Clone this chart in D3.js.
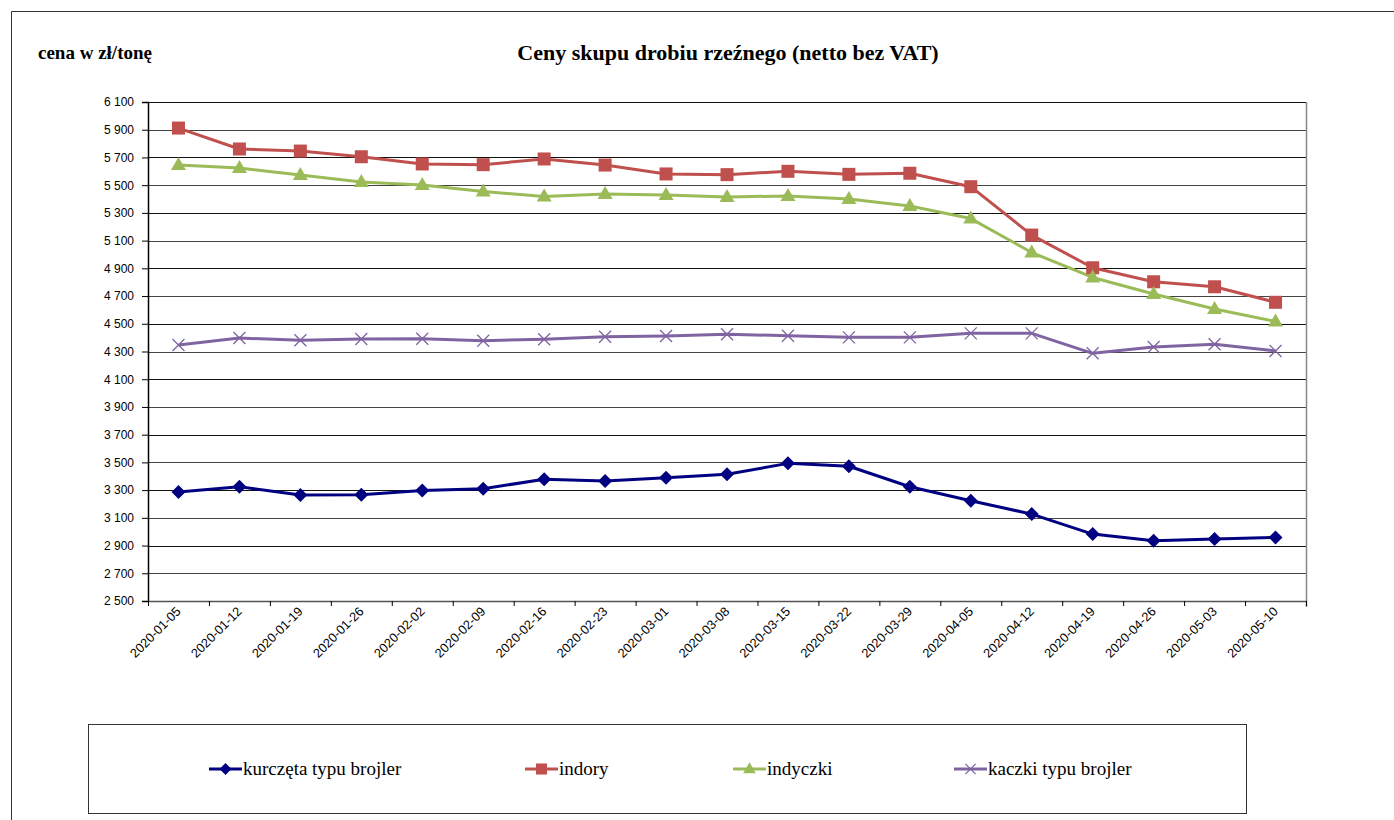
<!DOCTYPE html>
<html><head><meta charset="utf-8">
<script src="https://cdn.jsdelivr.net/npm/d3@7"></script>
<style>body{margin:0;background:#fff}svg{display:block}
.serif{font-family:"Liberation Serif","Times New Roman",serif}
.sans{font-family:"Liberation Sans",Arial,sans-serif}
</style>
</head><body>
<svg id="c" width="1394" height="820"></svg>
<script>
const dates = ["2020-01-05","2020-01-12","2020-01-19","2020-01-26","2020-02-02","2020-02-09","2020-02-16","2020-02-23","2020-03-01","2020-03-08","2020-03-15","2020-03-22","2020-03-29","2020-04-05","2020-04-12","2020-04-19","2020-04-26","2020-05-03","2020-05-10"];
const kurczeta = [3286,3324,3265,3267,3298,3310,3378,3365,3389,3414,3493,3472,3324,3223,3127,2983,2935,2947,2959];
const indory = [5912,5761,5746,5705,5653,5648,5689,5645,5581,5576,5600,5578,5586,5489,5140,4904,4803,4767,4655];
const indyczki = [5645,5624,5573,5523,5501,5454,5418,5436,5429,5415,5422,5400,5350,5259,5014,4834,4715,4607,4517];
const kaczki = [4347,4397,4381,4390,4392,4378,4388,4407,4412,4424,4414,4402,4402,4431,4431,4287,4332,4352,4304];
const yTicks = d3.range(2500, 6101, 200);
const seriesNames = ["kurczęta typu brojler","indory","indyczki","kaczki typu brojler"];

const series = [
  {name: seriesNames[0], values: kurczeta, color: "#000080", marker: "diamond"},
  {name: seriesNames[1], values: indory, color: "#c0504d", marker: "square"},
  {name: seriesNames[2], values: indyczki, color: "#9bbb59", marker: "triangle"},
  {name: seriesNames[3], values: kaczki, color: "#8064a2", marker: "x"}
];

const svg = d3.select("#c");
const L = 148, R = 1306, T = 102, B = 601;

svg.append("path").attr("d", "M11.5,830 V11.5 H1400").attr("fill","none").attr("stroke","#333").attr("stroke-width",1);

const x = d3.scaleBand().domain(dates).range([L, R]);
const y = d3.scaleLinear().domain([2500, 6100]).range([B, T]);

svg.append("g").selectAll("line").data(yTicks).join("line")
  .attr("x1", L).attr("x2", R)
  .attr("y1", d => Math.round(y(d)) + 0.5).attr("y2", d => Math.round(y(d)) + 0.5)
  .attr("stroke", (d,i) => i % 2 ? "#444" : "#111").attr("stroke-width", 1.2);
svg.append("line").attr("x1", R+0.5).attr("x2", R+0.5).attr("y1", T).attr("y2", B+6).attr("stroke", "#888").attr("stroke-width", 1.5);

const yAxis = d3.axisLeft(y).tickValues(yTicks).tickSize(6).tickPadding(8)
  .tickFormat(d => d3.format(",")(d).replace(",", " "));
const gy = svg.append("g").attr("transform", `translate(${L},0)`).call(yAxis)
  .attr("font-family", null).attr("font-size", null);
gy.select(".domain").attr("stroke", "#000").attr("stroke-width", 1.5);
gy.selectAll(".tick line").attr("stroke", "#000");
gy.selectAll("text").attr("class", "sans").style("font-size", "12px").attr("fill", "#000");

const xAxis = d3.axisBottom(x).tickSize(0).tickPadding(0);
const gx = svg.append("g").attr("transform", `translate(0,${B})`).call(xAxis)
  .attr("font-family", null).attr("font-size", null);
gx.select(".domain").attr("stroke", "#555").attr("stroke-width", 1.5);
gx.selectAll(".tick text")
  .attr("class", "sans").style("font-size", "12.8px").attr("fill", "#000")
  .attr("text-anchor", "end").attr("y", 0)
  .attr("transform", "translate(0,8) rotate(-45)")
  .attr("dy", "0.35em");
const bounds = dates.map(d => x(d)).concat([R]);
svg.append("g").selectAll("line").data(bounds).join("line")
  .attr("x1", d => d + 0.5).attr("x2", d => d + 0.5)
  .attr("y1", B).attr("y2", B + 5).attr("stroke", "#000");

const cx = d => x(d) + x.bandwidth() / 2;
series.forEach(s => {
  const line = d3.line().x((v, i) => cx(dates[i])).y(v => y(v));
  svg.append("path").datum(s.values).attr("d", line)
    .attr("fill", "none").attr("stroke", s.color).attr("stroke-width", 3).attr("stroke-linejoin", "round");
});

function drawMarker(g, type, color, px, py, k) {
  k = k || 1;
  if (type === "diamond") {
    g.append("path").attr("d", `M${px},${py-7*k} L${px+7*k},${py} L${px},${py+7*k} L${px-7*k},${py} Z`).attr("fill", color);
  } else if (type === "square") {
    g.append("rect").attr("x", px-6.5*k).attr("y", py-6.5*k).attr("width", 13*k).attr("height", 13*k).attr("fill", color);
  } else if (type === "triangle") {
    g.append("path").attr("d", `M${px},${py-8*k} L${px+7.5*k},${py+5*k} L${px-7.5*k},${py+5*k} Z`).attr("fill", color);
  } else {
    g.append("path").attr("d", `M${px-6*k},${py-6*k} L${px+6*k},${py+6*k} M${px-6*k},${py+6*k} L${px+6*k},${py-6*k}`)
      .attr("stroke", color).attr("stroke-width", 1.3).attr("fill", "none");
  }
}
series.forEach(s => {
  const g = svg.append("g");
  s.values.forEach((v, i) => drawMarker(g, s.marker, s.color, cx(dates[i]), y(v)));
});

svg.append("text").attr("class", "serif").attr("x", 38).attr("y", 59).text("cena w zł/tonę")
  .style("font-weight", "bold").style("font-size", "19px");
svg.append("text").attr("class", "serif").attr("x", 728).attr("y", 60).attr("text-anchor", "middle").text("Ceny skupu drobiu rzeźnego (netto bez VAT)")
  .style("font-weight", "bold").style("font-size", "22px");

svg.append("rect").attr("x", 88.5).attr("y", 724.5).attr("width", 1158).attr("height", 89)
  .attr("fill", "none").attr("stroke", "#333").attr("stroke-width", 1);
const legX = [209, 525, 733, 954];
series.forEach((s, i) => {
  const g = svg.append("g");
  const lx = legX[i], ly = 769;
  g.append("line").attr("x1", lx).attr("x2", lx + 33).attr("y1", ly).attr("y2", ly).attr("stroke", s.color).attr("stroke-width", 3);
  drawMarker(g, s.marker, s.color, lx + 16.5, ly, 0.85);
  g.append("text").attr("class", "serif").attr("x", lx + 34).attr("y", ly + 6).text(s.name)
    .style("font-size", "19px");
});
</script>
</body></html>
